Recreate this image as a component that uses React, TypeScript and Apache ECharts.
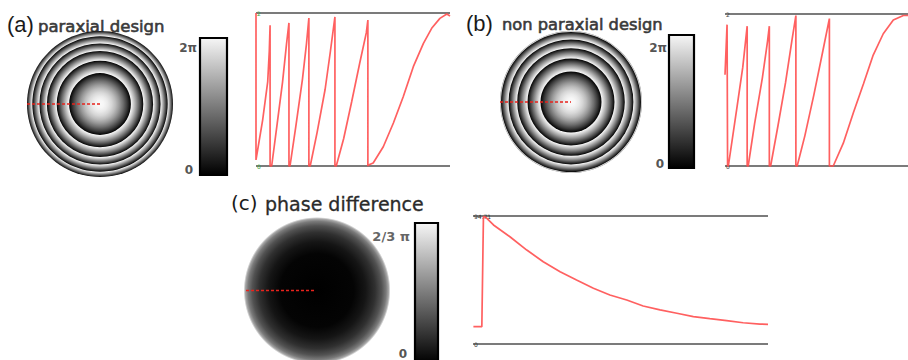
import React, { useEffect, useRef } from "react";
import * as echarts from "echarts";

// Fresnel-zone boundary radii read from the profiles (last value = aperture edge)
const paraxialZoneRadii = [30.9, 43.3, 53.1, 60.6, 67.7, 73.0];
const paraxialEdgePhase = 0.04;
const nonParaxialZoneRadii = [30.5, 43.5, 53.8, 62.4, 70.0, 71.0];
const nonParaxialEdgePhase = 0.6;
const phaseDiffApertureRadius = 71;

// Phase profiles along the red dashed line: [radius, phase / max]
const paraxialProfile: [number, number][] = [
  [73.0, 1.0], [73.0, 0.04], [70.5, 0.3], [68.6, 0.55], [68.0, 0.75], [67.7, 0.92], [67.7, 0.0],
  [67.1, 0.0], [65.0, 0.28], [63.0, 0.55], [61.5, 0.8], [60.6, 0.935], [60.6, 0.0],
  [60.2, 0.0], [58.0, 0.26], [55.5, 0.57], [54.0, 0.8], [53.1, 0.967], [53.1, 0.0],
  [52.6, 0.0], [50.0, 0.22], [47.0, 0.5], [45.0, 0.75], [43.3, 0.974], [43.3, 0.0],
  [42.8, 0.0], [40.0, 0.18], [37.0, 0.42], [34.0, 0.67], [31.5, 0.87], [30.9, 0.954], [30.9, 0.0],
  [30.7, 0.007], [28.9, 0.02], [25.1, 0.126], [21.3, 0.281], [17.6, 0.453], [13.8, 0.649],
  [10.0, 0.802], [6.9, 0.9], [3.8, 0.965], [1.2, 0.993], [0, 0.98],
];

const nonParaxialProfile: [number, number][] = [
  [71.0, 0.6], [70.2, 0.93], [70.0, 0.0],
  [69.7, 0.0], [66.5, 0.37], [64.1, 0.65], [62.4, 0.92], [62.4, 0.0],
  [62.0, 0.0], [59.5, 0.28], [56.5, 0.58], [54.5, 0.82], [53.8, 0.92], [53.8, 0.0],
  [53.3, 0.0], [50.5, 0.26], [47.5, 0.55], [45.0, 0.83], [43.5, 0.99], [43.5, 0.0],
  [43.0, 0.0], [40.0, 0.2], [36.5, 0.47], [33.0, 0.76], [30.5, 0.97], [30.5, 0.0],
  [30.0, 0.0], [29.0, 0.0], [25.1, 0.15], [21.2, 0.35], [17.3, 0.54], [13.5, 0.73],
  [9.6, 0.87], [5.7, 0.96], [1.8, 0.99], [0, 0.99],
];

const phaseDiffProfile: [number, number][] = [
  [73.4, 0.135], [71.3, 0.135], [70.9, 0.995], [70.3, 0.99], [68.4, 0.93], [64.3, 0.838],
  [60.1, 0.734], [56.0, 0.643], [51.8, 0.565], [47.7, 0.5], [43.5, 0.435], [39.4, 0.383],
  [35.2, 0.344], [31.1, 0.297], [26.9, 0.266], [22.7, 0.24], [18.6, 0.214], [14.5, 0.198],
  [10.3, 0.182], [6.2, 0.166], [2.0, 0.156], [0, 0.154],
];

const panelLetters = ["(a)", "(b)", "(c)"];
const panelTitles = ["paraxial design", "non paraxial design", "phase difference"];
const colorbarTopLabels = ["2\u03c0", "2\u03c0", "2/3 \u03c0"];
const colorbarBottomLabels = ["0", "0", "0"];
const profileTopLabels = ["2", "2", "94.71"];
const profileBottomLabels = ["0", "0", "0"];

const gray = (p: number) => {
  const g = Math.max(0, Math.min(250, Math.round(p * 250)));
  return `rgb(${g},${g},${g})`;
};

const zoneStops = (ro: number, ri: number, pe: number) => {
  const stops: { offset: number; color: string }[] = [];
  if (ri > 0) stops.push({ offset: 0, color: gray(1) });
  const n = 8;
  for (let k = 0; k <= n; k++) {
    const r = ri + ((ro - ri) * k) / n;
    const ph = 1 - ((1 - pe) * (r * r - ri * ri)) / (ro * ro - ri * ri);
    stops.push({ offset: r / ro, color: gray(ph) });
  }
  return stops;
};

const zoneItems = (radii: number[], edgePhase: number) =>
  radii
    .map((ro, i) => [ro, i === 0 ? 0 : radii[i - 1], i === radii.length - 1 ? edgePhase : 0])
    .reverse();

const ringRenderer = (_params: any, api: any) => {
  const ro = api.value(0);
  const ri = api.value(1);
  const pe = api.value(2);
  const c = api.coord([0, 0]);
  const rad = api.size([ro, 0])[0];
  return {
    type: "circle",
    shape: { cx: c[0], cy: c[1], r: rad },
    style: { fill: new echarts.graphic.RadialGradient(0.5, 0.5, 0.5, zoneStops(ro, ri, pe)) },
  };
};

const diffRenderer = (_params: any, api: any) => {
  const R = api.value(0);
  const c = api.coord([0, 0]);
  const rad = api.size([R * 1.035, 0])[0];
  return {
    type: "circle",
    shape: { cx: c[0], cy: c[1], r: rad },
    style: {
      fill: new echarts.graphic.RadialGradient(0.5, 0.5, 0.5, [
        { offset: 0, color: "#000" },
        { offset: 0.5, color: "#040404" },
        { offset: 0.66, color: "#151515" },
        { offset: 0.79, color: "#303030" },
        { offset: 0.88, color: "#525252" },
        { offset: 0.94, color: "#7a7a7a" },
        { offset: 0.975, color: "#a8a8a8" },
        { offset: 1, color: "#ffffff" },
      ]),
    },
  };
};

const redLine = { color: "#ff4f4f", width: 1.7, opacity: 0.9 };

const profileY = (grid: number, idx: number, color: string) => ({
  gridIndex: grid,
  type: "value",
  min: 0,
  max: 1,
  interval: 1,
  axisLine: { show: false },
  axisTick: { show: false },
  splitLine: { show: true, lineStyle: { color: "#7b7b7b", width: 2 } },
  axisLabel: {
    inside: true,
    margin: 1,
    fontSize: 6,
    color,
    fontFamily: "DejaVu Sans",
    formatter: (v: number) => (v === 1 ? profileTopLabels[idx] : profileBottomLabels[idx]),
  },
});

const diskAxis = (grid: number, R: number) => ({
  gridIndex: grid,
  type: "value",
  min: -R,
  max: R,
  show: false,
});

const text = (
  x: number, y: number, t: string, size: number, family: string, fill: string,
  weight = "normal", align = "left", strokeW = 0
) => ({
  type: "text",
  x,
  y,
  silent: true,
  style: {
    text: t,
    fontSize: size,
    fontFamily: family,
    fontWeight: weight,
    fill,
    stroke: strokeW > 0 ? fill : undefined,
    lineWidth: strokeW,
    align,
    textAlign: align,
    verticalAlign: "middle",
    textVerticalAlign: "middle",
  },
});

const colorbar = (x: number, y: number, w: number, h: number) => ({
  type: "rect",
  silent: true,
  shape: { x, y, width: w, height: h },
  style: {
    fill: new echarts.graphic.LinearGradient(0, 0, 0, 1, [
      { offset: 0, color: "#f6f6f6" },
      { offset: 1, color: "#000000" },
    ]),
    stroke: "#000",
    lineWidth: 2.2,
  },
});

export default function App() {
  const ref = useRef<HTMLDivElement>(null);
  useEffect(() => {
    if (!ref.current) return;
    const chart = echarts.init(ref.current, null, { renderer: "svg" });
    const aR = paraxialZoneRadii[paraxialZoneRadii.length - 1];
    const bR = nonParaxialZoneRadii[nonParaxialZoneRadii.length - 1];
    const cR = phaseDiffApertureRadius;
    const option: any = {
      animation: false,
      backgroundColor: "#ffffff",
      grid: [
        { left: 27, top: 31, width: 146, height: 146 },
        { left: 256, top: 13, width: 194, height: 153 },
        { left: 500, top: 31, width: 142, height: 142 },
        { left: 725, top: 14, width: 183, height: 152 },
        { left: 246, top: 221, width: 142, height: 142 },
        { left: 473, top: 216, width: 295, height: 128 },
      ],
      xAxis: [
        diskAxis(0, aR),
        { gridIndex: 1, type: "value", min: 0, max: aR, inverse: true, show: false },
        diskAxis(2, bR),
        { gridIndex: 3, type: "value", min: 0, max: bR, inverse: true, show: false },
        diskAxis(4, cR),
        { gridIndex: 5, type: "value", min: 0, max: 73.5, inverse: true, show: false },
      ],
      yAxis: [
        diskAxis(0, aR),
        profileY(1, 0, "#3aa83a"),
        diskAxis(2, bR),
        profileY(3, 1, "#444"),
        diskAxis(4, cR),
        profileY(5, 2, "#333"),
      ],
      series: [
        {
          type: "custom", xAxisIndex: 0, yAxisIndex: 0, silent: true, clip: false,
          data: zoneItems(paraxialZoneRadii, paraxialEdgePhase), renderItem: ringRenderer,
          encode: { x: 0, y: 1 },
        },
        {
          type: "line", xAxisIndex: 0, yAxisIndex: 0, symbol: "none", silent: true, z: 5,
          data: [[-aR, 0], [0, 0]],
          lineStyle: { color: "#e8231c", width: 1.4, type: [3, 2] },
        },
        {
          type: "line", xAxisIndex: 1, yAxisIndex: 1, symbol: "none", silent: true, clip: false,
          data: paraxialProfile, lineStyle: redLine,
        },
        {
          type: "custom", xAxisIndex: 2, yAxisIndex: 2, silent: true, clip: false,
          data: zoneItems(nonParaxialZoneRadii, nonParaxialEdgePhase), renderItem: ringRenderer,
          encode: { x: 0, y: 1 },
        },
        {
          type: "line", xAxisIndex: 2, yAxisIndex: 2, symbol: "none", silent: true, z: 5,
          data: [[-bR, 0], [0, 0]],
          lineStyle: { color: "#e8231c", width: 1.4, type: [3, 2] },
        },
        {
          type: "line", xAxisIndex: 3, yAxisIndex: 3, symbol: "none", silent: true, clip: false,
          data: nonParaxialProfile, lineStyle: redLine,
        },
        {
          type: "custom", xAxisIndex: 4, yAxisIndex: 4, silent: true, clip: false,
          data: [[cR, 0]], renderItem: diffRenderer, encode: { x: 0, y: 1 },
        },
        {
          type: "line", xAxisIndex: 4, yAxisIndex: 4, symbol: "none", silent: true, z: 5,
          data: [[-cR, 0], [-3, 0]],
          lineStyle: { color: "#e8231c", width: 1.4, type: [3, 2] },
        },
        {
          type: "line", xAxisIndex: 5, yAxisIndex: 5, symbol: "none", silent: true, clip: false,
          data: phaseDiffProfile, lineStyle: redLine,
        },
      ],
      graphic: {
        elements: [
          text(7, 24, panelLetters[0], 22, "Liberation Sans", "#1a1a1a"),
          text(38, 26, panelTitles[0], 16.5, "DejaVu Sans", "#3a3a3a", "normal", "left", 0.6),
          text(466, 23, panelLetters[1], 22, "Liberation Sans", "#1a1a1a"),
          text(502, 24, panelTitles[1], 16.3, "DejaVu Sans", "#3a3a3a", "normal", "left", 0.6),
          text(231, 203, panelLetters[2], 20, "DejaVu Sans", "#1a1a1a"),
          text(265, 204, panelTitles[2], 19, "DejaVu Sans", "#2a2a2a", "normal", "left", 0.3),
          colorbar(200, 38, 27, 137),
          colorbar(669, 35, 25, 133),
          colorbar(415, 223, 23, 140),
          text(197, 48, colorbarTopLabels[0], 12, "DejaVu Sans", "#555", "bold", "right"),
          text(193, 170, colorbarBottomLabels[0], 12, "DejaVu Sans", "#555", "bold", "right"),
          text(667, 48, colorbarTopLabels[1], 12, "DejaVu Sans", "#555", "bold", "right"),
          text(664, 164, colorbarBottomLabels[1], 12, "DejaVu Sans", "#555", "bold", "right"),
          text(410, 236, colorbarTopLabels[2], 13, "DejaVu Sans", "#666", "bold", "right"),
          text(407, 354, colorbarBottomLabels[2], 12, "DejaVu Sans", "#555", "bold", "right"),
        ],
      },
    };
    chart.setOption(option);
    return () => chart.dispose();
  }, []);
  return (
    <div
      ref={ref}
      style={{ position: "absolute", left: 0, top: 0, width: 908, height: 360, background: "#fff" }}
    />
  );
}
